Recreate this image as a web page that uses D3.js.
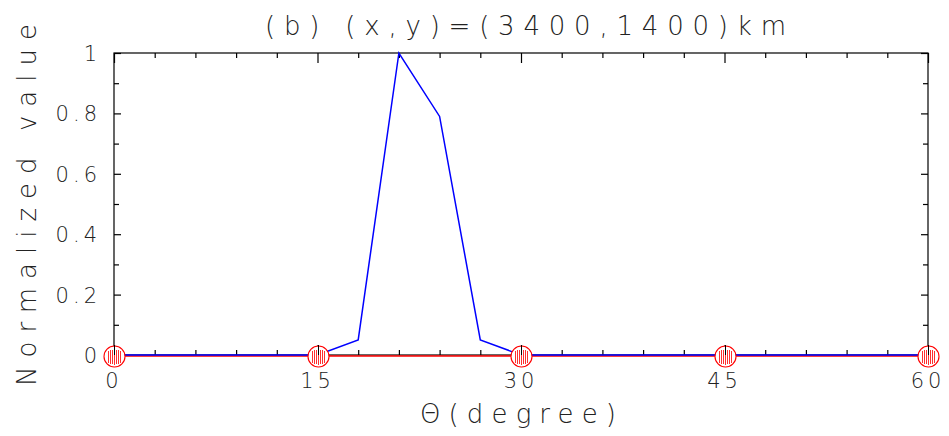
<!DOCTYPE html>
<html>
<head>
<meta charset="utf-8">
<script src="https://cdn.jsdelivr.net/npm/d3@7"></script>
<style>
  html, body { margin: 0; padding: 0; background: #fff; }
  svg { display: block; }
  text { font-family: "DejaVu Sans", sans-serif; font-weight: 200; fill: #222; }
</style>
</head>
<body>
<svg id="chart" width="949" height="436"></svg>
<script>
// Angle samples (degrees) and normalized responses
const thetaBlue = [0, 3, 6, 9, 12, 15, 18, 21, 24, 27, 30, 33, 36, 39, 42, 45, 48, 51, 54, 57, 60];
const valueBlue = [0, 0, 0, 0, 0, 0, 0.05, 1, 0.79, 0.05, 0, 0, 0, 0, 0, 0, 0, 0, 0, 0, 0];
const thetaRed = [0, 15, 30, 45, 60];
const valueRed = [0, 0, 0, 0, 0];
const xTicks = [0, 15, 30, 45, 60];
const xMinorTicks = [3, 6, 9, 12, 18, 21, 24, 27, 33, 36, 39, 42, 48, 51, 54, 57];
const yTicks = [0, 0.2, 0.4, 0.6, 0.8, 1];
const yTickLabels = ["0", "0.2", "0.4", "0.6", "0.8", "1"];
const yMinorTicks = [0.1, 0.3, 0.5, 0.7, 0.9];
const titleText = "(b)  (x,y)=(3400,1400)km";
const xLabel = "\u0398(degree)";
const yLabel = "Normalized value";

const svg = d3.select("#chart");
const m = { left: 114, right: 928, top: 53, bottom: 355 };
const x = d3.scaleLinear().domain([0, 60]).range([m.left, m.right]);
const y = d3.scaleLinear().domain([0, 1]).range([m.bottom, m.top]);
const W = m.right - m.left, H = m.bottom - m.top;

// Frame
svg.append("rect")
  .attr("x", m.left).attr("y", m.top).attr("width", W).attr("height", H)
  .attr("fill", "none").attr("stroke", "#000").attr("stroke-width", 1.2);

// Inward ticks on all four sides, using d3 axes with negative tick size
function addAxis(axis, tx, ty) {
  const g = svg.append("g").attr("transform", `translate(${tx},${ty})`).call(axis);
  g.select(".domain").remove();
  g.selectAll("text").remove();
  g.selectAll("line").attr("stroke", "#000").attr("stroke-width", 1.2);
}
addAxis(d3.axisBottom(x).tickValues(xTicks).tickSize(-10), 0, m.bottom);
addAxis(d3.axisBottom(x).tickValues(xMinorTicks).tickSize(-5), 0, m.bottom);
addAxis(d3.axisTop(x).tickValues(xTicks).tickSize(-10), 0, m.top);
addAxis(d3.axisTop(x).tickValues(xMinorTicks).tickSize(-5), 0, m.top);
addAxis(d3.axisLeft(y).tickValues(yTicks).tickSize(-7), m.left, 0);
addAxis(d3.axisLeft(y).tickValues(yMinorTicks).tickSize(-5), m.left, 0);
addAxis(d3.axisRight(y).tickValues(yTicks).tickSize(-7), m.right, 0);
addAxis(d3.axisRight(y).tickValues(yMinorTicks).tickSize(-5), m.right, 0);

// Tick labels
svg.append("g").selectAll("text").data(xTicks).join("text")
  .attr("x", d => x(d)).attr("y", 388)
  .attr("text-anchor", "middle")
  .attr("font-size", 21)
  .attr("letter-spacing", 4)
  .text(d => String(d));

svg.append("g").selectAll("text").data(yTicks).join("text")
  .attr("x", 101).attr("y", d => y(d) + 8)
  .attr("text-anchor", "end")
  .attr("font-size", 21)
  .attr("letter-spacing", 4)
  .text((d, i) => yTickLabels[i]);

// Series lines
const line = d3.line().x(d => x(d[0])).y(d => y(d[1]));
svg.append("path")
  .datum(thetaRed.map((t, i) => [t, valueRed[i]]))
  .attr("d", line)
  .attr("transform", "translate(0,1)")
  .attr("fill", "none").attr("stroke", "#ff0000").attr("stroke-width", 1.4);
svg.append("path")
  .datum(thetaBlue.map((t, i) => [t, valueBlue[i]]))
  .attr("d", line)
  .attr("fill", "none").attr("stroke", "#0000ff").attr("stroke-width", 1.5);

// Hatched circle markers on the red series (snapped to the pixel grid)
const r = 10.5;
const hatch = [-6, -4, -2, 0, 2, 4, 6];
const mk = svg.append("g").selectAll("g").data(thetaRed.map((t, i) => [t, valueRed[i]])).join("g")
  .attr("transform", d => `translate(${Math.round(x(d[0])) + 0.5},${Math.round(y(d[1])) + 1.5})`);
mk.append("circle").attr("r", r).attr("fill", "#fff")
  .attr("stroke", "#ff0000").attr("stroke-width", 1.1);
mk.selectAll("line.h").data(hatch).join("line").attr("class", "h")
  .attr("x1", d => d).attr("x2", d => d)
  .attr("y1", d => -Math.round(Math.sqrt(r * r - d * d) * 0.72))
  .attr("y2", d => Math.round(Math.sqrt(r * r - d * d) * 0.72))
  .attr("shape-rendering", "crispEdges")
  .attr("stroke", "#ff3030").attr("stroke-width", 1);
mk.append("line").attr("x1", 0).attr("x2", 0).attr("y1", -11.5).attr("y2", -2)
  .attr("shape-rendering", "crispEdges")
  .attr("stroke", "#000").attr("stroke-width", 1);

// Title and axis labels
svg.append("text")
  .attr("x", 265).attr("y", 35)
  .attr("font-size", 26)
  .attr("textLength", 521).attr("lengthAdjust", "spacing")
  .text(titleText);
svg.append("text")
  .attr("x", 420).attr("y", 423)
  .attr("font-size", 26)
  .attr("textLength", 196).attr("lengthAdjust", "spacing")
  .text(xLabel);
svg.append("text")
  .attr("transform", "translate(36,386) rotate(-90)")
  .attr("font-size", 26)
  .attr("textLength", 362).attr("lengthAdjust", "spacing")
  .text(yLabel);
</script>
</body>
</html>
